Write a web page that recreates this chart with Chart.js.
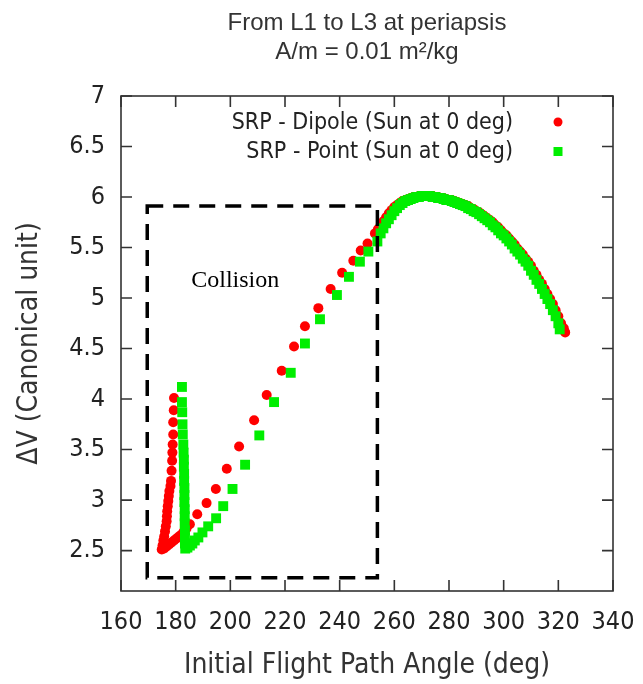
<!DOCTYPE html>
<html lang="en">
<head>
<meta charset="UTF-8">
<title>From L1 to L3 at periapsis</title>
<script src="https://cdn.jsdelivr.net/npm/chart.js"></script>
<style>
  body { margin: 0; background: #fff; }
  #grafico { display: block; }
</style>
</head>
<body>
<canvas id="grafico" width="643" height="684"></canvas>
<script>
// tick labels
const xTicks = [160, 180, 200, 220, 240, 260, 280, 300, 320, 340];
const yTicks = [2.5, 3, 3.5, 4, 4.5, 5, 5.5, 6, 6.5, 7];

// SRP - Dipole (red circles)
const dipoleX = [
  179.4, 179.3, 179.1, 179.1, 178.9, 178.8, 178.7, 178.5, 178.3, 178.1, 177.7, 177.5,
  177.3, 177.1, 176.9, 176.8, 176.7, 176.4, 176.1, 175.8, 175.5, 175.2, 174.9,
  175.8, 176.7, 177.6, 178.5, 179.4, 180.3, 181.2, 182.1, 183.0, 184.0,
  185.2, 187.9, 191.3, 194.7, 198.7, 203.2, 208.7, 213.3, 218.8, 223.3, 227.3, 232.2,
  236.7, 240.9, 245.0, 247.7, 250.2, 252.9,
  254, 255, 256, 257, 258, 259, 260, 261, 262, 263, 264, 265, 266, 267, 268, 269, 270,
  271, 272, 273, 274, 275, 276, 277, 278, 279, 280, 281, 282, 283, 284, 285, 286, 287,
  288, 289, 290, 291, 292, 293, 294, 295, 296, 297, 298, 299, 300, 301, 302, 303, 304,
  305, 306, 307, 308, 309, 310, 311, 312, 313, 314, 315, 316, 317, 318, 319, 320, 321,
  322, 322.5
];
const dipoleY = [
  4.01, 3.89, 3.77, 3.65, 3.55, 3.47, 3.39, 3.29, 3.19, 3.14, 3.09, 3.04,
  2.99, 2.94, 2.89, 2.84, 2.79, 2.74, 2.69, 2.64, 2.60, 2.55, 2.51,
  2.52, 2.54, 2.56, 2.58, 2.60, 2.62, 2.64, 2.66, 2.69, 2.72,
  2.76, 2.86, 2.97, 3.11, 3.31, 3.53, 3.79, 4.04, 4.28, 4.52, 4.72, 4.90,
  5.09, 5.25, 5.37, 5.47, 5.54, 5.64,
  5.68, 5.72, 5.76, 5.80, 5.84, 5.87, 5.90, 5.92, 5.94, 5.96, 5.97, 5.98, 5.99, 6.00, 6.00, 6.01, 6.01,
  6.01, 6.01, 6.01, 6.01, 6.00, 6.00, 5.99, 5.99, 5.98, 5.97, 5.97, 5.96, 5.95, 5.94, 5.93, 5.92, 5.91,
  5.89, 5.88, 5.86, 5.85, 5.83, 5.81, 5.79, 5.77, 5.75, 5.72, 5.70, 5.67, 5.64, 5.62, 5.59, 5.56, 5.53,
  5.49, 5.46, 5.43, 5.39, 5.36, 5.32, 5.27, 5.23, 5.18, 5.14, 5.09, 5.04, 4.99, 4.94, 4.88, 4.82, 4.75,
  4.70, 4.66
];

// SRP - Point (green squares)
const pointX = [
  182.3, 182.3, 182.4, 182.5, 182.6, 182.8, 182.9, 183.0, 183.0, 183.1, 183.1, 183.2,
  183.2, 183.2, 183.3, 183.3, 183.3, 183.4, 183.4, 183.4, 183.5,
  184.3, 185.2, 186.1, 187.0, 188.3, 189.8, 191.9, 194.8, 197.4, 200.8, 205.4, 210.6,
  216.0, 222.1, 227.3, 232.8, 239.0, 243.4, 247.4, 250.5, 253.8,
  255, 256, 257, 258, 259, 260, 261, 262, 263, 264, 265, 266, 267, 268, 269, 270,
  271, 272, 273, 274, 275, 276, 277, 278, 279, 280, 281, 282, 283, 284, 285, 286, 287,
  288, 289, 290, 291, 292, 293, 294, 295, 296, 297, 298, 299, 300, 301, 302, 303, 304,
  305, 306, 307, 308, 309, 310, 311, 312, 313, 314, 315, 316, 317, 318, 319, 320, 320.5
];
const pointY = [
  4.12, 3.97, 3.87, 3.75, 3.65, 3.55, 3.47, 3.40, 3.33, 3.26, 3.19, 3.12,
  3.05, 2.98, 2.91, 2.84, 2.77, 2.70, 2.63, 2.57, 2.52,
  2.53, 2.55, 2.57, 2.60, 2.63, 2.68, 2.74, 2.82, 2.94, 3.11, 3.35, 3.64,
  3.97, 4.26, 4.55, 4.79, 5.03, 5.21, 5.36, 5.46, 5.56,
  5.64, 5.69, 5.74, 5.78, 5.82, 5.86, 5.89, 5.92, 5.94, 5.96, 5.97, 5.98, 5.99, 6.00, 6.00, 6.01,
  6.01, 6.01, 6.01, 6.00, 6.00, 5.99, 5.99, 5.98, 5.97, 5.97, 5.96, 5.95, 5.94, 5.93, 5.92, 5.91, 5.89,
  5.88, 5.86, 5.85, 5.83, 5.81, 5.79, 5.77, 5.75, 5.72, 5.70, 5.67, 5.64, 5.62, 5.59, 5.56, 5.53, 5.49,
  5.46, 5.43, 5.39, 5.36, 5.32, 5.27, 5.23, 5.18, 5.14, 5.09, 5.04, 4.99, 4.94, 4.88, 4.82, 4.75, 4.69
];

// dashed "Collision" region, in data units
const collisionBox = { xMin: 169.6, xMax: 253.8, yMin: 2.23, yMax: 5.91 };

const toPoints = (xs, ys) => xs.map((x, i) => ({ x: x, y: ys[i] }));

const fonteEixo = "'DejaVu Sans Condensed', 'DejaVu Sans', sans-serif";

// frame with inward ticks on all sides, dashed box, legend, label
const moldura = {
  id: 'moldura',
  afterDatasetsDraw(chart) {
    const { ctx, chartArea: a, scales: { x, y } } = chart;
    const tl = 11;
    ctx.save();

    // dashed collision box
    ctx.strokeStyle = '#000';
    ctx.lineWidth = 3.5;
    ctx.setLineDash([16, 10]);
    const bx1 = x.getPixelForValue(collisionBox.xMin);
    const bx2 = x.getPixelForValue(collisionBox.xMax);
    const by1 = y.getPixelForValue(collisionBox.yMax);
    const by2 = y.getPixelForValue(collisionBox.yMin);
    ctx.strokeRect(bx1, by1, bx2 - bx1, by2 - by1);
    ctx.setLineDash([]);

    ctx.fillStyle = '#000';
    ctx.font = "24px 'Liberation Serif', 'Times New Roman', serif";
    ctx.textAlign = 'left';
    ctx.textBaseline = 'alphabetic';
    ctx.fillText('Collision', bx1 + 44, by1 + 81);

    // frame
    ctx.strokeStyle = '#333';
    ctx.lineWidth = 1.6;
    ctx.strokeRect(a.left, a.top, a.right - a.left, a.bottom - a.top);
    ctx.beginPath();
    xTicks.forEach(v => {
      const px = x.getPixelForValue(v);
      ctx.moveTo(px, a.bottom); ctx.lineTo(px, a.bottom - tl);
      ctx.moveTo(px, a.top); ctx.lineTo(px, a.top + tl);
    });
    yTicks.forEach(v => {
      const py = y.getPixelForValue(v);
      ctx.moveTo(a.left, py); ctx.lineTo(a.left + tl, py);
      ctx.moveTo(a.right, py); ctx.lineTo(a.right - tl, py);
    });
    ctx.stroke();

    // legend (text on the left, symbol on the right)
    const legenda = chart.data.datasets;
    ctx.font = "23px " + fonteEixo;
    ctx.textAlign = 'right';
    ctx.textBaseline = 'middle';
    legenda.slice().sort((p, q) => p.legendRow - q.legendRow).forEach((ds, i) => {
      const ly = a.top + 27 + i * 29;
      ctx.fillStyle = '#222';
      ctx.fillText(ds.label, a.right - 100, ly);
      ctx.fillStyle = ds.backgroundColor;
      if (ds.pointStyle === 'rect') {
        ctx.fillRect(a.right - 59.5, ly - 5, 9, 9);
      } else {
        ctx.beginPath();
        ctx.arc(a.right - 55, ly - 1, 4.5, 0, Math.PI * 2);
        ctx.fill();
      }
    });
    ctx.restore();
  }
};

new Chart(document.getElementById('grafico'), {
  type: 'scatter',
  data: {
    datasets: [
      {
        label: 'SRP - Dipole (Sun at 0 deg)',
        data: toPoints(dipoleX, dipoleY),
        backgroundColor: '#ff0000',
        borderWidth: 0,
        pointStyle: 'circle',
        pointRadius: 5,
        order: 1,
        legendRow: 0
      },
      {
        label: 'SRP - Point (Sun at 0 deg)',
        data: toPoints(pointX, pointY),
        backgroundColor: '#00ee00',
        borderWidth: 0,
        pointStyle: 'rect',
        pointRadius: 7,
        order: 0,
        legendRow: 1
      }
    ]
  },
  options: {
    responsive: false,
    animation: false,
    layout: { padding: { left: 0, right: 30, top: 0, bottom: 0 } },
    plugins: {
      legend: { display: false },
      tooltip: { enabled: false },
      title: {
        display: true,
        fullSize: false,
        text: ['From L1 to L3 at periapsis', 'A/m = 0.01 m\u00b2/kg'],
        color: '#333',
        font: { family: "'Liberation Sans', Arial, sans-serif", size: 24, weight: 'normal', lineHeight: 29 / 24 },
        padding: { top: 9, bottom: 29 }
      }
    },
    scales: {
      x: {
        type: 'linear',
        min: 160,
        max: 340,
        afterBuildTicks: s => { s.ticks = xTicks.map(v => ({ value: v })); },
        afterFit: s => { s.height = 93; s.paddingLeft = 0; s.paddingRight = 0; },
        grid: { display: false, drawTicks: false },
        border: { display: false },
        ticks: { color: '#222', padding: 16, autoSkip: false, maxRotation: 0, font: { family: fonteEixo, size: 25 }, callback: v => String(v) },
        title: {
          display: true,
          text: 'Initial Flight Path Angle (deg)',
          color: '#333',
          font: { family: fonteEixo, size: 28 },
          padding: { top: 0, bottom: 1 }
        }
      },
      y: {
        type: 'linear',
        min: 2.1,
        max: 7,
        afterBuildTicks: s => { s.ticks = yTicks.map(v => ({ value: v })); },
        afterFit: s => { s.width = 121; s.paddingTop = 0; s.paddingBottom = 0; },
        grid: { display: false, drawTicks: false },
        border: { display: false },
        ticks: { color: '#222', padding: 16, font: { family: fonteEixo, size: 25 }, callback: v => String(v) },
        title: {
          display: true,
          text: '\u0394V (Canonical unit)',
          color: '#333',
          font: { family: fonteEixo, size: 28 },
          padding: { top: 13, bottom: 0 }
        }
      }
    }
  },
  plugins: [moldura]
});
</script>
</body>
</html>
